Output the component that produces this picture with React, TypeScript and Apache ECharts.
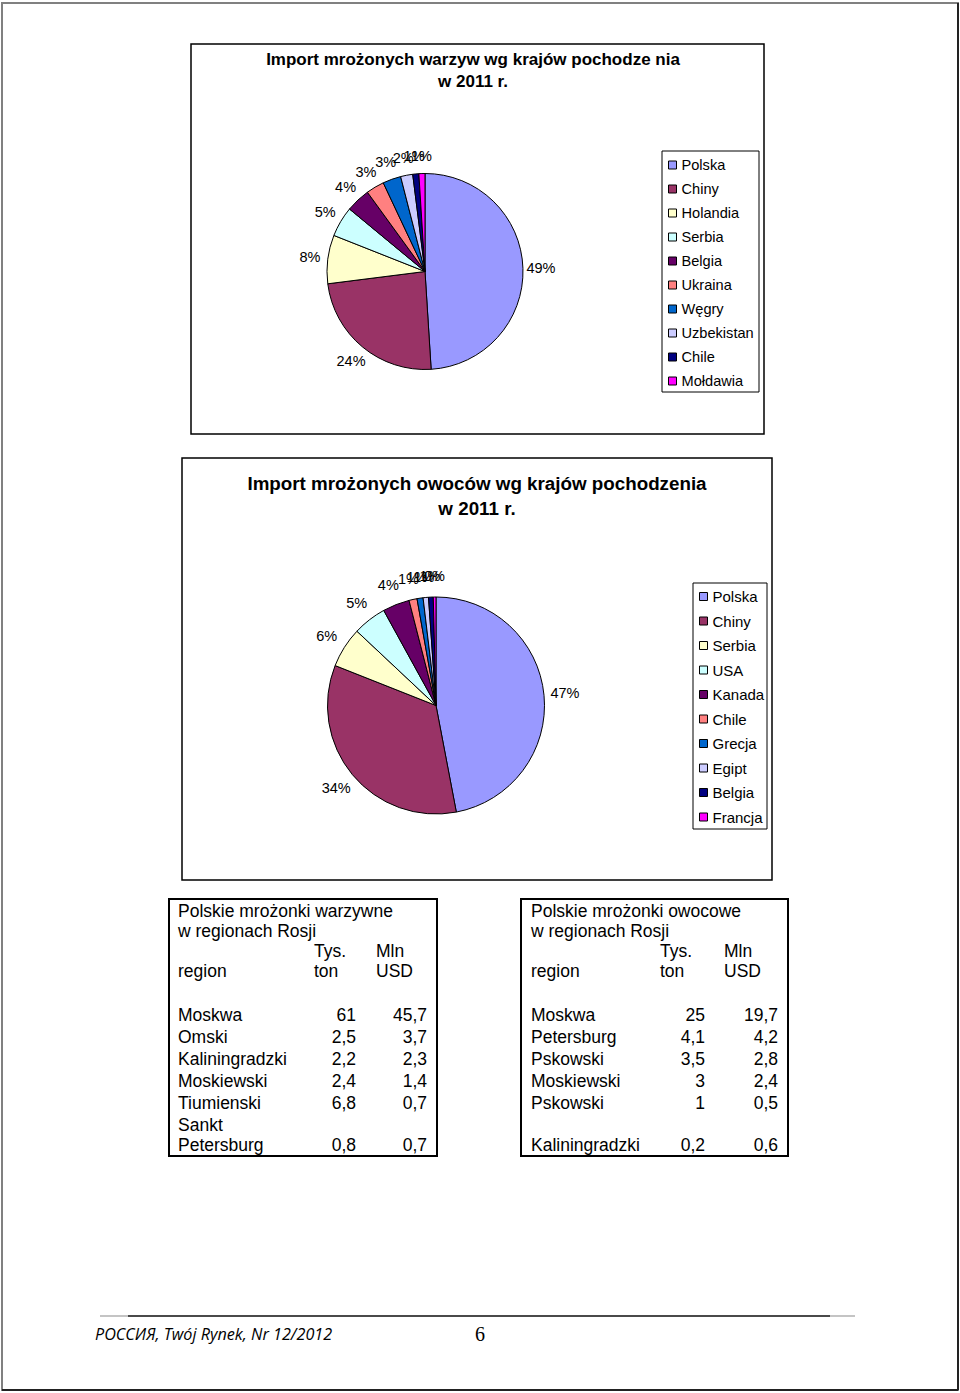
import React, { useEffect, useRef } from "react";
import * as echarts from "echarts";

// ---- Data ----
const vegTitle = ["Import mrożonych warzyw wg krajów pochodze nia", "w 2011 r."];
const vegNames = ["Polska", "Chiny", "Holandia", "Serbia", "Belgia", "Ukraina", "Węgry", "Uzbekistan", "Chile", "Mołdawia"];
const vegValues = [49, 24, 8, 5, 4, 3, 3, 2, 1, 1];
const vegColors = ["#9999FF", "#993366", "#FFFFCC", "#CCFFFF", "#660066", "#FF8080", "#0066CC", "#CCCCFF", "#000080", "#FF00FF"];

const fruitTitle = ["Import mrożonych owoców wg krajów pochodzenia", "w 2011 r."];
const fruitNames = ["Polska", "Chiny", "Serbia", "USA", "Kanada", "Chile", "Grecja", "Egipt", "Belgia", "Francja"];
const fruitValues = [47, 34, 6, 5, 4, 1.2, 0.9, 0.8, 0.7, 0.4];
const fruitColors = ["#9999FF", "#993366", "#FFFFCC", "#CCFFFF", "#660066", "#FF8080", "#0066CC", "#CCCCFF", "#000080", "#FF00FF"];

const vegTableTitle = ["Polskie mrożonki warzywne", "w regionach Rosji"];
const vegRegions = ["Moskwa", "Omski", "Kaliningradzki", "Moskiewski", "Tiumienski", "Sankt\nPetersburg"];
const vegTons = [61, 2.5, 2.2, 2.4, 6.8, 0.8];
const vegUsd = [45.7, 3.7, 2.3, 1.4, 0.7, 0.7];

const fruitTableTitle = ["Polskie mrożonki owocowe", "w regionach Rosji"];
const fruitRegions = ["Moskwa", "Petersburg", "Pskowski", "Moskiewski", "Pskowski", "Kaliningradzki"];
const fruitTons = [25, 4.1, 3.5, 3, 1, 0.2];
const fruitUsd = [19.7, 4.2, 2.8, 2.4, 0.5, 0.6];

const headerRegion = "region";
const headerTons = ["Tys.", "ton"];
const headerUsd = ["Mln", "USD"];

const footerText = "РОССИЯ, Twój Rynek, Nr 12/2012";
const pageNumber = "6";

const FONT = "Arial, 'Liberation Sans', sans-serif";
const TABLE_FS = 17.5;
const fmt = (v: number) => String(v).replace(".", ",");

function txt(x: number, y: number, text: string, opts: any = {}) {
  return {
    type: "text",
    x,
    y,
    silent: true,
    style: {
      text,
      fill: "#000",
      fontSize: opts.fontSize ?? TABLE_FS,
      fontFamily: opts.fontFamily ?? FONT,
      fontWeight: opts.fontWeight ?? "normal",
      fontStyle: opts.fontStyle ?? "normal",
      align: opts.align ?? "left",
      verticalAlign: "middle",
    },
  };
}

function rect(x: number, y: number, w: number, h: number, lw = 1.5, stroke = "#000") {
  return {
    type: "rect",
    silent: true,
    shape: { x, y, width: w, height: h },
    style: { fill: "none", stroke, lineWidth: lw },
  };
}

function line(x1: number, y1: number, x2: number, y2: number, lw: number, stroke: string) {
  return {
    type: "line",
    silent: true,
    shape: { x1, y1, x2, y2 },
    style: { stroke, lineWidth: lw },
  };
}

function table(
  left: number,
  title: string[],
  regions: string[],
  tons: number[],
  usd: number[],
  tonRight: number,
  usdRight: number,
  tonHeadX: number,
  usdHeadX: number
) {
  const els: any[] = [];
  els.push(txt(left, 911, title[0]));
  els.push(txt(left, 931, title[1]));
  els.push(txt(tonHeadX, 951, headerTons[0]));
  els.push(txt(usdHeadX, 951, headerUsd[0]));
  els.push(txt(left, 971, headerRegion));
  els.push(txt(tonHeadX, 971, headerTons[1]));
  els.push(txt(usdHeadX, 971, headerUsd[1]));
  regions.forEach((r, i) => {
    const y = i < 5 ? 1015 + 22 * i : 1145;
    const parts = r.split("\n").reverse();
    parts.forEach((p, k) => els.push(txt(left, y - 20 * k, p)));
    els.push(txt(tonRight, y, fmt(tons[i]), { align: "right" }));
    els.push(txt(usdRight, y, fmt(usd[i]), { align: "right" }));
  });
  return els;
}

function pieSeries(names: string[], values: number[], colors: string[], center: number[], r: number, labelGap: number, fontSize: number) {
  const data = names.map((n, i) => ({ name: n, value: values[i], itemStyle: { color: colors[i] } }));
  const total = values.reduce((a, b) => a + b, 0);
  const mids: number[] = [];
  let cum = 0;
  values.forEach((v) => {
    mids.push(((cum + v / 2) / total) * Math.PI * 2);
    cum += v;
  });
  const R = r + labelGap;
  return {
    type: "pie",
    center,
    radius: r,
    startAngle: 90,
    clockwise: true,
    avoidLabelOverlap: false,
    silent: true,
    label: {
      show: true,
      position: "outside",
      color: "#000",
      fontSize,
      fontFamily: FONT,
      formatter: (p: any) => Math.round(p.percent) + "%",
    },
    labelLine: { show: false, length: 2, length2: 0 },
    labelLayout: (p: any) => {
      const a = mids[p.dataIndex];
      return {
        x: center[0] + R * Math.sin(a),
        y: center[1] - R * Math.cos(a),
        align: "center",
        verticalAlign: "middle",
      };
    },
    itemStyle: { borderColor: "#000", borderWidth: 1 },
    emphasis: { disabled: true },
    data,
  };
}

export default function App() {
  const ref = useRef<HTMLDivElement>(null);
  useEffect(() => {
    if (!ref.current) return;
    const chart = echarts.init(ref.current, undefined, { renderer: "svg" });
    const graphics: any[] = [
      // page frame
      rect(2, 3, 956, 1387, 2, "#808080"),
      line(958, 3, 958, 1390, 2, "#222"),
      line(2, 1390, 958, 1390, 2, "#222"),
      // chart boxes
      rect(191, 44, 573, 390, 1.5),
      rect(182, 458, 590, 422, 1.5),
      // legend boxes
      rect(662, 151, 97, 241, 1),
      rect(693, 583, 74, 246, 1),
      // table boxes
      rect(169, 899, 268, 257, 2),
      rect(521, 899, 267, 257, 2),
      // titles
      txt(473, 59, vegTitle[0], { align: "center", fontWeight: "bold", fontSize: 17 }),
      txt(473, 81, vegTitle[1], { align: "center", fontWeight: "bold", fontSize: 17 }),
      txt(477, 483, fruitTitle[0], { align: "center", fontWeight: "bold", fontSize: 18.8 }),
      txt(477, 508, fruitTitle[1], { align: "center", fontWeight: "bold", fontSize: 18.8 }),
      ...table(178, vegTableTitle, vegRegions, vegTons, vegUsd, 356, 427, 314, 376),
      ...table(531, fruitTableTitle, fruitRegions, fruitTons, fruitUsd, 705, 778, 660, 724),
      // footer
      line(100, 1316, 855, 1316, 1.5, "#b0b0b0"),
      line(128, 1316, 830, 1316, 1.5, "#222"),
      txt(95, 1334, footerText, { fontFamily: "'Open Sans', 'Noto Sans', sans-serif", fontStyle: "italic", fontSize: 16.2 }),
      txt(480, 1334, pageNumber, { align: "center", fontFamily: "'Liberation Serif', 'DejaVu Serif', serif", fontSize: 20 }),
    ];
    chart.setOption({
      animation: false,
      backgroundColor: "#fff",
      legend: [
        {
          orient: "vertical",
          left: 668,
          top: 157,
          padding: 0,
          itemWidth: 8,
          itemHeight: 8,
          itemGap: 8,
          icon: "rect",
          selectedMode: false,
          textStyle: { fontSize: 14.6, fontFamily: FONT, color: "#000", lineHeight: 16 },
          data: vegNames.map((n, i) => ({ name: n, itemStyle: { color: vegColors[i], borderColor: "#000", borderWidth: 1 } })),
        },
        {
          orient: "vertical",
          left: 699,
          top: 588,
          padding: 0,
          itemWidth: 8,
          itemHeight: 8,
          itemGap: 7.5,
          icon: "rect",
          selectedMode: false,
          textStyle: { fontSize: 15, fontFamily: FONT, color: "#000", lineHeight: 17 },
          data: fruitNames.map((n, i) => ({ name: n, itemStyle: { color: fruitColors[i], borderColor: "#000", borderWidth: 1 } })),
        },
      ],
      series: [
        pieSeries(vegNames, vegValues, vegColors, [425, 271.5], 98, 18, 14.5),
        pieSeries(fruitNames, fruitValues, fruitColors, [436, 705.5], 108.5, 21, 14.5),
      ],
      graphic: { elements: graphics },
    });
    return () => chart.dispose();
  }, []);
  return (
    <div
      ref={ref}
      style={{ position: "absolute", left: 0, top: 0, width: 960, height: 1393, background: "#fff" }}
    />
  );
}
